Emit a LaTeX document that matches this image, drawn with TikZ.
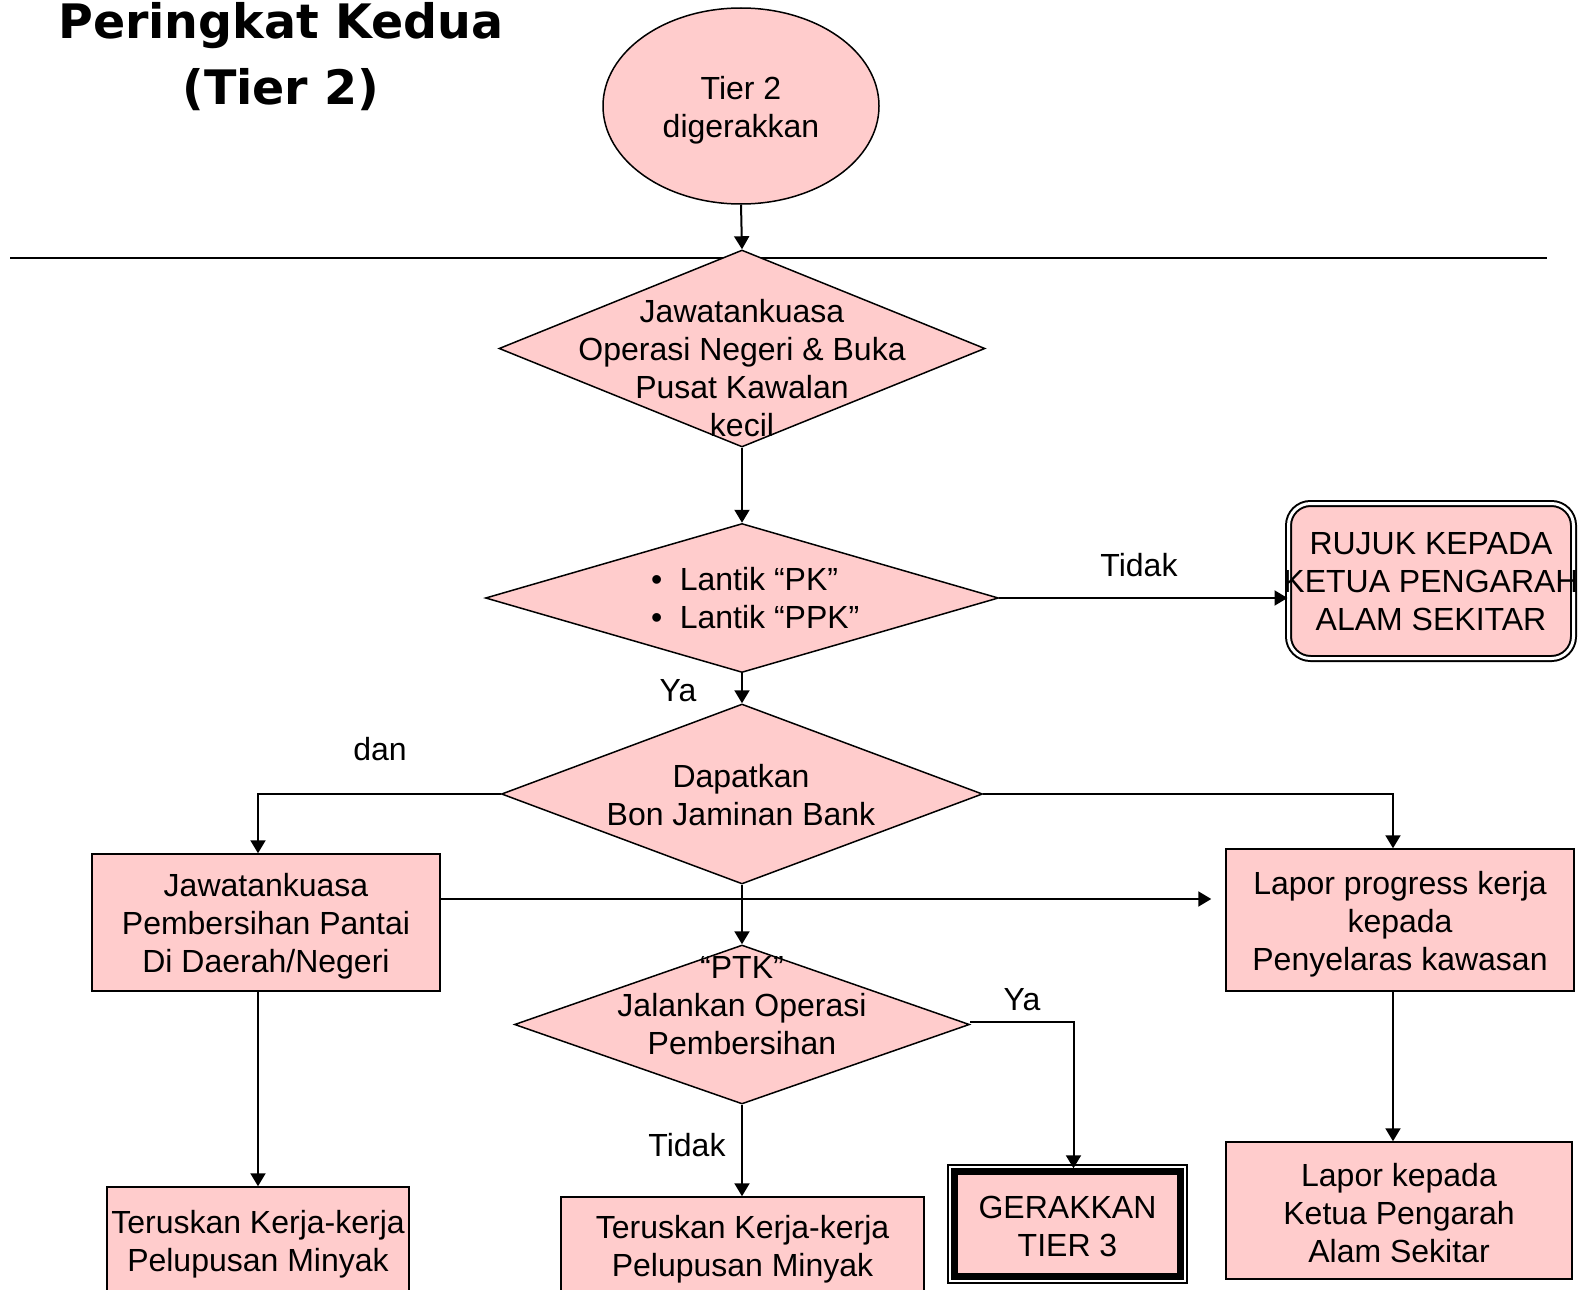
\documentclass[tikz,border=0pt]{standalone}
\usepackage{fontspec}
\setmainfont{Liberation Sans}
\newfontfamily\titlefont{DejaVu Sans}
\usetikzlibrary{shapes.geometric,arrows.meta,calc}
\definecolor{boxpink}{HTML}{FFCCCC}
\begin{document}
\begin{tikzpicture}[x=1pt,y=1pt,
  every node/.style={font=\fontsize{32}{38}\selectfont, inner sep=0pt},
  shapebox/.style={draw, line width=1.5pt, fill=boxpink},
  txt/.style={align=center},
  dia/.style={diamond, draw, line width=1.5pt, fill=boxpink},
  conn/.style={line width=2pt},
  arr/.style={conn, -{Triangle[length=13pt,width=15pt]}},
  lbl/.style={}
]
\useasboundingbox (0,0) rectangle (1585,-1290);
\clip (0,0) rectangle (1585,-1290);
\fill[white] (0,0) rectangle (1585,-1290);

% title
\node[font=\titlefont\bfseries\fontsize{47.5}{64}\selectfont, anchor=base] (title1) at (281,-39) {Peringkat Kedua};
\node[font=\titlefont\bfseries\fontsize{47.5}{64}\selectfont, anchor=base] (title2) at (281,-104) {(Tier 2)};

% start ellipse
\node[ellipse, shapebox, minimum width=276, minimum height=196] (tier) at (741,-106) {};
\node[txt] (tiert) at (741,-110) {Tier 2\\digerakkan};

% separator
\coordinate (sepL) at (10,-258);
\coordinate (sepR) at (1547,-258);
\draw[conn] (sepL) -- (sepR);

% diamonds
\node[dia, minimum width=486, minimum height=197] (d1) at (742,-348.5) {};
\node[txt] (d1t) at (742,-368) {Jawatankuasa\\Operasi Negeri \& Buka\\Pusat Kawalan\\kecil};

\node[dia, minimum width=513, minimum height=149] (d2) at (742,-598) {};
\node[align=left, anchor=west] (d2t) at (651,-598) {\makebox[28.6pt][l]{•}Lantik “PK”\\\makebox[28.6pt][l]{•}Lantik “PPK”};

\node[dia, minimum width=481, minimum height=180] (d3) at (742,-794) {};
\node[txt] (d3t) at (741,-795) {Dapatkan\\Bon Jaminan Bank};

\node[dia, minimum width=455, minimum height=159] (d4) at (742,-1024.5) {};
\node[txt] (d4t) at (742,-1006) {“PTK”\\Jalankan Operasi\\Pembersihan};

% rujuk box
\node[draw, line width=2pt, double=white, double distance=3pt, fill=boxpink, rounded corners=22pt,
      minimum width=285, minimum height=155] (rujuk) at (1431,-581) {};
\node[txt] (rujukt) at (1431,-582) {RUJUK KEPADA\\KETUA PENGARAH\\ALAM SEKITAR};

% rectangles
\node[shapebox, minimum width=348, minimum height=137] (jp) at (266,-922.5) {};
\node[txt] (jpt) at (266,-926) {Jawatankuasa\\Pembersihan Pantai\\Di Daerah/Negeri};
\node[shapebox, minimum width=348, minimum height=142] (lp) at (1400,-920) {};
\node[txt] (lpt) at (1400,-924) {Lapor progress kerja\\kepada\\Penyelaras kawasan};
\node[shapebox, minimum width=346, minimum height=137] (lk) at (1399,-1210.5) {};
\node[txt] (lkt) at (1399,-1213) {Lapor kepada\\Ketua Pengarah\\Alam Sekitar};
\node[shapebox, minimum width=302, minimum height=108] (t1) at (258,-1241) {};
\node[txt] (t1t) at (258,-1244) {Teruskan Kerja-kerja\\Pelupusan Minyak};
\node[shapebox, minimum width=363, minimum height=98] (t2) at (742.5,-1246) {};
\node[txt] (t2t) at (742.5,-1249) {Teruskan Kerja-kerja\\Pelupusan Minyak};

% gerakkan tier 3
\node[draw, line width=6.5pt, fill=boxpink, minimum width=226, minimum height=105] (g3) at (1067.5,-1224) {};
\node[txt] (g3t) at (1067.5,-1226) {GERAKKAN\\TIER 3};
\draw[line width=1.5pt] ([shift={(-3.25,3.25)}]g3.north west) rectangle ([shift={(3.25,-3.25)}]g3.south east);

% connectors
\draw[arr] (tier.south) -- (d1.north);
\draw[arr] (d1.south) -- (d2.north);
\draw[arr] (d2.east) -- (d2.east -| rujuk.west);
\draw[arr] (d2.south) -- (d3.north);
\draw[arr] (d3.west) -| (jp.north -| t1.north);
\draw[arr] (d3.east) -| ([xshift=-7pt]lp.north);
\draw[arr] (d3.south) -- (d4.north);
\coordinate (jpA) at ([yshift=23.5pt]jp.east);
\draw[arr, shorten >=14pt] (jpA) -- (jpA -| lp.west);
\draw[arr] (jp.south -| t1.north) -- (t1.north);
\draw[arr] ([xshift=-7pt]lp.south) -- ([xshift=-7pt]lp.south |- lk.north);
\draw[arr] ([yshift=3pt]d4.east) -| ([xshift=6pt]g3.north);
\draw[arr] (d4.south) -- (d4.south |- t2.north);

% labels
\node[lbl] (lbTidak1) at (1139,-565) {Tidak};
\node[lbl] (lbYa1) at (678,-691) {Ya};
\node[lbl] (lbDan) at (380,-749) {dan};
\node[lbl] (lbYa2) at (1022,-1000) {Ya};
\node[lbl] (lbTidak2) at (687,-1145) {Tidak};
\end{tikzpicture}
\end{document}
